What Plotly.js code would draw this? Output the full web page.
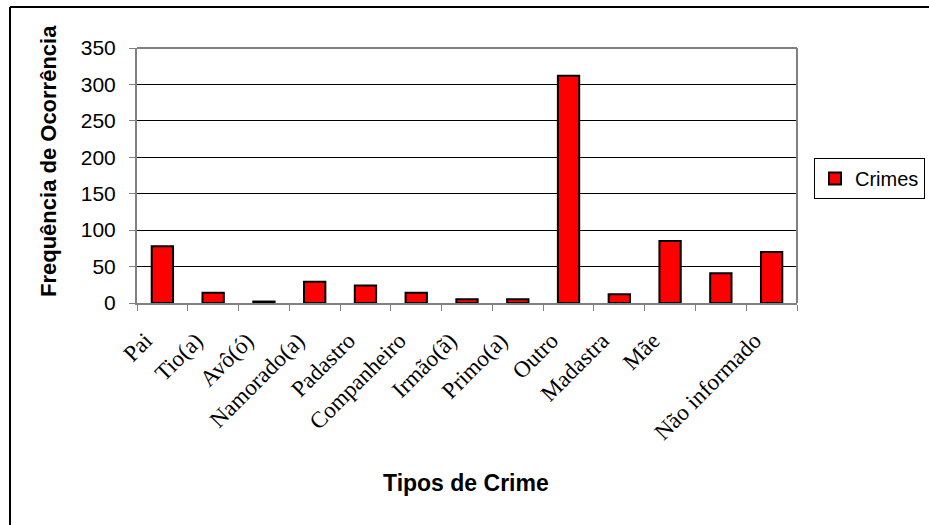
<!DOCTYPE html>
<html>
<head>
<meta charset="utf-8">
<script src="https://cdn.plot.ly/plotly-3.0.1.min.js"></script>
<style>html,body{margin:0;padding:0;background:#fff;overflow:hidden;}#chart{width:929px;height:525px;}</style>
</head>
<body>
<div id="chart"></div>
<script>
const categories = ["Pai","Tio(a)","Avô(ó)","Namorado(a)","Padastro","Companheiro","Irmão(ã)","Primo(a)","Outro","Madastra","Mãe","(sem rótulo)","Não informado"];
const tickLabels = ["Pai","Tio(a)","Avô(ó)","Namorado(a)","Padastro","Companheiro","Irmão(ã)","Primo(a)","Outro","Madastra","Mãe","","Não informado"];
const crimes = [78, 14, 2, 29, 24, 14, 5, 5, 312, 12, 85, 41, 70];
const yTicks = [0, 50, 100, 150, 200, 250, 300, 350];

const L = 137, R = 797, T = 48, B = 303, W = 929, H = 525;
const px = v => (v - L) / (R - L);
const py = v => (B - v) / (B - T);

const trace = {
  type: 'bar',
  x: categories,
  y: crimes,
  name: 'Crimes',
  marker: {color: '#FF0000', line: {color: '#000000', width: 2}},
  hoverinfo: 'x+y'
};

const layout = {
  width: W, height: H,
  margin: {l: L, r: W - R, t: T, b: H - B, pad: 0, autoexpand: false},
  paper_bgcolor: '#ffffff',
  plot_bgcolor: '#ffffff',
  bargap: 0.58,
  showlegend: true,
  legend: {
    x: px(814), xanchor: 'left',
    y: py(158), yanchor: 'top',
    bgcolor: '#ffffff', bordercolor: '#000000', borderwidth: 1,
    font: {family: 'Liberation Sans, Arial, sans-serif', size: 20, color: '#000'},
    itemwidth: 30
  },
  xaxis: {
    type: 'category',
    tickvals: categories,
    ticktext: tickLabels,
    tickangle: -45,
    tickson: 'boundaries',
    ticks: 'outside', ticklen: 6, tickcolor: '#808080', tickwidth: 1,
    showline: true, linecolor: '#808080', linewidth: 2,
    showgrid: false, zeroline: false,
    ticklabelstandoff: 13,
    ticklabelshift: -17,
    tickfont: {family: 'Liberation Serif, Times New Roman, serif', size: 23, color: '#000'},
    fixedrange: true
  },
  yaxis: {
    range: [0, 350],
    tickvals: yTicks,
    ticks: 'outside', ticklen: 6, tickcolor: '#808080', tickwidth: 1,
    showline: true, linecolor: '#808080', linewidth: 2,
    showgrid: true, gridcolor: '#000000', gridwidth: 1,
    zeroline: false,
    ticklabelstandoff: 9,
    tickfont: {family: 'Liberation Sans, Arial, sans-serif', size: 21, color: '#000'},
    fixedrange: true
  },
  shapes: [
    {type: 'line', xref: 'paper', yref: 'paper', x0: 0, x1: 1, y0: 1, y1: 1, line: {color: '#808080', width: 2}},
    {type: 'line', xref: 'paper', yref: 'paper', x0: 1, x1: 1, y0: 0, y1: 1, line: {color: '#808080', width: 2}},
    {type: 'line', xref: 'paper', yref: 'paper', x0: px(10), x1: px(10), y0: py(7), y1: py(H + 10), line: {color: '#000000', width: 2}},
    {type: 'line', xref: 'paper', yref: 'paper', x0: px(10), x1: px(W + 10), y0: py(7), y1: py(7), line: {color: '#000000', width: 2}}
  ],
  annotations: [
    {text: '<b>Frequência de Ocorrência</b>', xref: 'paper', yref: 'paper',
     x: px(48), y: py(161), textangle: -90, showarrow: false,
     xanchor: 'center', yanchor: 'middle',
     font: {family: 'Liberation Sans, Arial, sans-serif', size: 22, color: '#000'}},
    {text: '<b>Tipos de Crime</b>', xref: 'paper', yref: 'paper',
     x: px(466), y: py(483), showarrow: false,
     xanchor: 'center', yanchor: 'middle',
     font: {family: 'Liberation Sans, Arial, sans-serif', size: 23, color: '#000'}}
  ]
};

Plotly.newPlot('chart', [trace], layout, {displayModeBar: false, staticPlot: true});
</script>
</body>
</html>
